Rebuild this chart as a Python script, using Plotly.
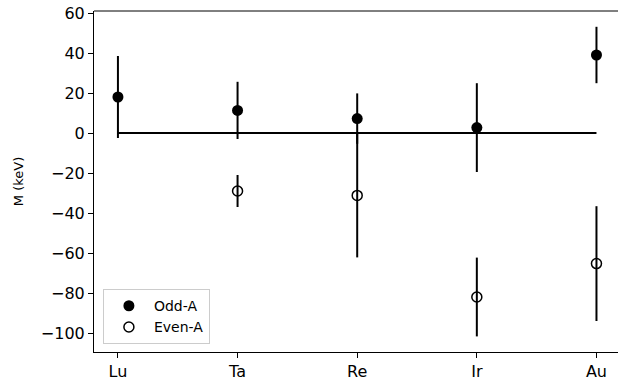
import plotly.graph_objects as go

categories = ["Lu", "Ta", "Re", "Ir", "Au"]

odd_values = [18, 11.3, 7.2, 2.7, 39]
odd_errors = [20.5, 14.3, 12.6, 22.2, 14.1]

even_categories = ["Ta", "Re", "Ir", "Au"]
even_values = [-29, -31.2, -82, -65.3]
even_errors = [8, 31, 19.7, 28.7]

zero_x = [categories[0], categories[-1]]
zero_y = [0, 0]

ytick_vals = [60, 40, 20, 0, -20, -40, -60, -80, -100]
ytick_text = [str(v).replace("-", "\u2212") for v in ytick_vals]

font_family = "DejaVu Sans"

fig = go.Figure()

fig.add_trace(go.Scatter(
    x=zero_x, y=zero_y, mode="lines",
    line=dict(color="black", width=2),
    showlegend=False, hoverinfo="skip",
))

fig.add_trace(go.Scatter(
    x=categories, y=odd_values, mode="markers", name="Odd-A",
    marker=dict(symbol="circle", size=11, color="black"),
    error_y=dict(type="data", array=odd_errors, visible=True,
                 color="black", thickness=2, width=0),
))

fig.add_trace(go.Scatter(
    x=even_categories, y=even_values, mode="markers", name="Even-A",
    marker=dict(symbol="circle-open", size=10, color="black",
                line=dict(width=1.5, color="black")),
    error_y=dict(type="data", array=even_errors, visible=True,
                 color="black", thickness=2, width=0),
))

fig.update_layout(
    width=618, height=381,
    margin=dict(l=94, r=0, t=11, b=29),
    paper_bgcolor="white", plot_bgcolor="white",
    font=dict(family=font_family, color="black"),
    legend=dict(
        x=0.017, y=0.023, xanchor="left", yanchor="bottom",
        bgcolor="rgba(255,255,255,0.8)", bordercolor="#cccccc", borderwidth=1,
        font=dict(size=14, family=font_family),
        itemwidth=40,
    ),
    shapes=[dict(type="line", xref="paper", yref="paper", x0=0, x1=1.01, y0=1, y1=1,
                 line=dict(color="black", width=1))],
)

fig.update_xaxes(
    type="category", categoryorder="array", categoryarray=categories,
    range=[-0.2, 4.18],
    showline=True, linecolor="black", linewidth=1, mirror=False,
    ticks="outside", ticklen=5, tickcolor="black", tickwidth=1,
    showgrid=False, zeroline=False,
    tickfont=dict(size=16, family=font_family),
)

fig.update_yaxes(
    range=[-109.5, 61],
    tickvals=ytick_vals, ticktext=ytick_text,
    showline=True, linecolor="black", linewidth=1,
    ticks="outside", ticklen=5, tickcolor="black", tickwidth=1,
    showgrid=False, zeroline=False,
    tickfont=dict(size=16, family=font_family),
    title=dict(text="M (keV)", font=dict(size=13, family=font_family), standoff=14),
)

fig.write_html(
    "out.html",
    config={"displayModeBar": False},
    post_script="document.body.style.margin='0';document.body.style.padding='0';",
)
